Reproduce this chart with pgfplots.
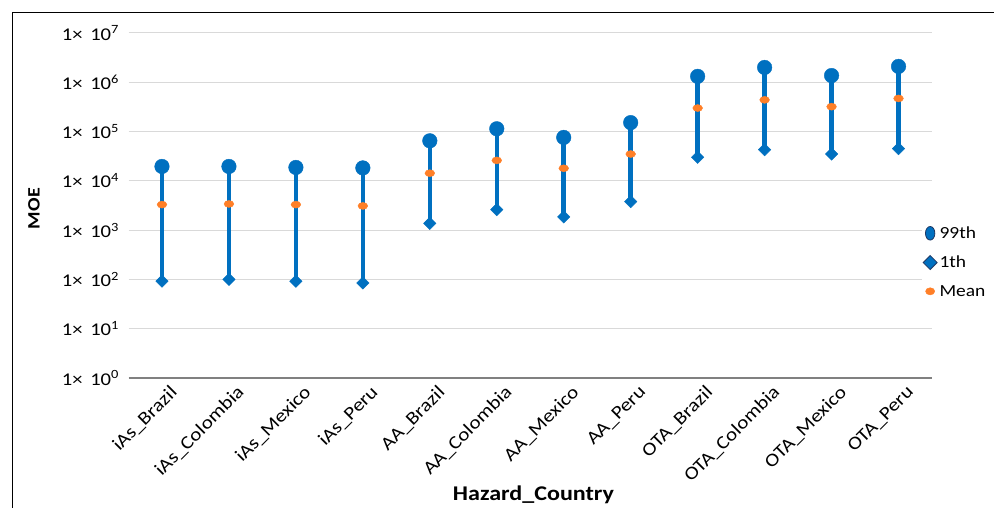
\documentclass[border=0pt]{standalone}
\usepackage{fontspec}
\setmainfont{Carlito}[FakeStretch=1.15]
\usepackage{pgfplots}
\usepackage{pgfplotstable}
\pgfplotsset{compat=1.18}
\definecolor{xblue}{HTML}{0070C0}
\definecolor{xdark}{HTML}{1F3864}
\definecolor{xorange}{HTML}{FF7F27}
\definecolor{xgrid}{HTML}{D9D9D9}
\definecolor{xaxis}{HTML}{808080}

\pgfplotstableread{
x   low    mean    high
0   92     3300    19600
1   100    3400    19600
2   92     3300    18700
3   85     3100    18300
4   1370   14300   65000
5   2600   26000   114000
6   1860   18000   76000
7   3800   35000   152000
8   30000  300000  1320000
9   43000  440000  2000000
10  35000  320000  1370000
11  45000  470000  2100000
}\datatable

\begin{document}
\begin{tikzpicture}
\useasboundingbox (0,0) rectangle (994bp,508bp);
\fill[white] (0,0) rectangle (994bp,508bp);
\draw[black, line width=1.6bp] (12.5bp,0) -- (12.5bp,495.5bp) -- (994bp,495.5bp);
\begin{axis}[
  at={(128.5bp,130bp)}, anchor=south west,
  scale only axis, width=803.5bp, height=345bp,
  ymode=log, ymin=1, ymax=1e7,
  xmin=-0.5, xmax=11.5,
  xtick={0,...,11},
  xticklabels={iAs\_Brazil,iAs\_Colombia,iAs\_Mexico,iAs\_Peru,AA\_Brazil,AA\_Colombia,AA\_Mexico,AA\_Peru,OTA\_Brazil,OTA\_Colombia,OTA\_Mexico,OTA\_Peru},
  xticklabel style={rotate=45, anchor=east, font=\fontsize{18.5}{18.5}\selectfont, xshift=4bp, yshift=-17bp},
  ytick={1,10,100,1000,10000,100000,1000000,10000000},
  yticklabels={1× \,10\textsuperscript{0},1× \,10\textsuperscript{1},1× \,10\textsuperscript{2},1× \,10\textsuperscript{3},1× \,10\textsuperscript{4},1× \,10\textsuperscript{5},1× \,10\textsuperscript{6},1× \,10\textsuperscript{7}},
  yticklabel style={font=\fontsize{18}{18}\selectfont, xshift=-6bp},
  ymajorgrids, grid style={xgrid, line width=1bp},
  major tick length=0pt, minor tick length=0pt, yminorticks=false,
  axis lines=left,
  axis line style={-},
  y axis line style={draw=none},
  x axis line style={draw=xaxis, line width=1.2bp},
  xlabel={\textbf{Hazard\_Country}},
  xlabel style={font=\fontsize{21}{21}\selectfont, at={(axis description cs:0.504,0)}, anchor=center, yshift=-117bp},
  ylabel={\textbf{MOE}},
  ylabel style={font=\fontsize{17.5}{17.5}\selectfont, at={(axis description cs:-0.1176,0.491)}, anchor=center, rotate=0},
  clip=false,
  legend style={at={(axis description cs:0.987,0.336)}, anchor=west, draw=none, fill=white, font=\fontsize{17}{17}\selectfont, row sep=12bp, inner sep=1bp, legend cell align=left},
  unbounded coords=jump,
]
% stems
\addplot[xblue, line width=4.5bp, forget plot] coordinates {
(0,92)(0,19600)(0,nan)
(1,100)(1,19600)(1,nan)
(2,92)(2,18700)(2,nan)
(3,85)(3,18300)(3,nan)
(4,1370)(4,65000)(4,nan)
(5,2600)(5,114000)(5,nan)
(6,1860)(6,76000)(6,nan)
(7,3800)(7,152000)(7,nan)
(8,30000)(8,1320000)(8,nan)
(9,43000)(9,2000000)(9,nan)
(10,35000)(10,1370000)(10,nan)
(11,45000)(11,2100000)
};
\addplot[only marks, mark=*, mark size=7.3bp, mark options={fill=xblue, draw=xblue},
  legend image code/.code={\draw[fill=xblue, draw=xdark, line width=0.8bp] (0bp,0bp) circle[x radius=4.7bp, y radius=6.8bp];}]
  table[x=x, y=high] {\datatable};
\addlegendentry{99th}
\addplot[only marks, mark=square*, mark size=4.4bp, mark options={fill=xblue, draw=xblue, rotate=45},
  legend image code/.code={\draw[fill=xblue, draw=xdark, line width=0.8bp] (-7bp,0bp) -- (0bp,7bp) -- (7bp,0bp) -- (0bp,-7bp) -- cycle;}]
  table[x=x, y=low] {\datatable};
\addlegendentry{1th}
\addplot[only marks, mark=*, mark size=3.5bp, mark options={fill=xorange, draw=xorange, xscale=1.4},
  legend image code/.code={\fill[xorange] (0bp,0bp) circle[x radius=4.6bp, y radius=3.6bp];}]
  table[x=x, y=mean] {\datatable};
\addlegendentry{Mean}
\end{axis}
\end{tikzpicture}
\end{document}
